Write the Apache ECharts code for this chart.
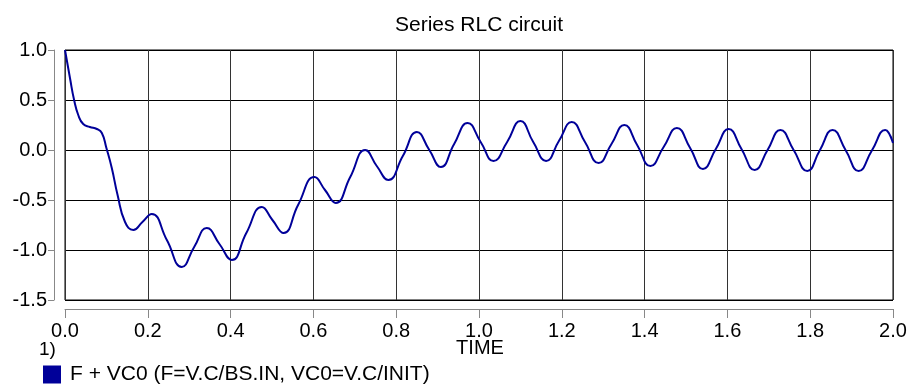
<!DOCTYPE html>
<html>
<head>
<meta charset="utf-8">
<script src="https://cdn.jsdelivr.net/npm/echarts@6/dist/echarts.min.js"></script>
<style>html,body{margin:0;padding:0;background:#fff}#c{width:910px;height:386px}</style>
</head>
<body>
<div id="c"></div>
<script>
var titleText = 'Series RLC circuit';
var xName = 'TIME';
var plotIndexLabel = '1)';
var seriesName = 'F + VC0 (F=V.C/BS.IN, VC0=V.C/INIT)';
var xTicks = [0.0, 0.2, 0.4, 0.6, 0.8, 1.0, 1.2, 1.4, 1.6, 1.8, 2.0];
var yTicks = [-1.5, -1.0, -0.5, 0.0, 0.5, 1.0];
var time = [0, 0.012, 0.022, 0.032, 0.044, 0.060, 0.077, 0.089, 0.100, 0.113, 0.127, 0.145, 0.165, 0.187, 0.2095, 0.246, 0.282, 0.312, 0.3425, 0.373, 0.403, 0.438, 0.4754, 0.501, 0.528, 0.563, 0.6026, 0.628, 0.654, 0.689, 0.725, 0.753, 0.781, 0.816, 0.850, 0.880, 0.908, 0.940, 0.9725, 1.004, 1.035, 1.068, 1.100, 1.131, 1.162, 1.193, 1.224, 1.256, 1.289, 1.320, 1.351, 1.382, 1.414, 1.446, 1.478, 1.510, 1.541, 1.572, 1.603, 1.634, 1.666, 1.697, 1.728, 1.760, 1.793, 1.823, 1.854, 1.886, 1.917, 1.949, 1.981, 2.000];
var value = [1.0, 0.72, 0.50, 0.35, 0.26, 0.23, 0.21, 0.17, 0.02, -0.18, -0.45, -0.72, -0.80, -0.72, -0.64, -0.90, -1.17, -0.97, -0.78, -0.94, -1.10, -0.83, -0.57, -0.70, -0.83, -0.55, -0.27, -0.40, -0.53, -0.27, 0.00, -0.16, -0.30, -0.06, 0.18, 0.00, -0.17, 0.06, 0.27, 0.08, -0.11, 0.08, 0.29, 0.08, -0.11, 0.09, 0.28, 0.08, -0.13, 0.06, 0.25, 0.05, -0.16, 0.03, 0.22, 0.02, -0.19, 0.01, 0.21, 0.01, -0.20, 0.00, 0.20, 0.00, -0.21, -0.005, 0.20, -0.005, -0.21, -0.005, 0.20, 0.07];

var pts = time.map(function (t, i) { return [t, value[i]]; });
var FONT = '"Liberation Sans", Arial, sans-serif';
var chart = echarts.init(document.getElementById('c'), null, {renderer: 'canvas'});
chart.setOption({
  animation: false,
  backgroundColor: '#fff',
  grid: {left: 65, right: 17, top: 50, bottom: 86, show: true, borderColor: '#000', borderWidth: 1, backgroundColor: 'transparent'},
  legend: {
    left: 43, top: 364, padding: 0, icon: 'rect', itemWidth: 18, itemHeight: 18,
    data: [seriesName],
    textStyle: {fontFamily: FONT, fontSize: 21, color: '#000', padding: [0, 0, 0, 4]}
  },
  xAxis: {
    type: 'value', min: xTicks[0], max: xTicks[xTicks.length - 1], interval: 0.2,
    offset: 9,
    axisLine: {show: true, onZero: false, lineStyle: {color: '#888', width: 1}},
    axisTick: {show: true, length: 9, lineStyle: {color: '#888'}},
    axisLabel: {margin: 12, fontFamily: FONT, fontSize: 20, color: '#000', formatter: function (v) { return v.toFixed(1); }},
    splitLine: {show: true, lineStyle: {color: '#333', width: 1}}
  },
  yAxis: {
    type: 'value', min: yTicks[0], max: yTicks[yTicks.length - 1], interval: 0.5,
    offset: 11,
    axisLine: {show: true, onZero: false, lineStyle: {color: '#888', width: 1}},
    axisTick: {show: true, length: 6, lineStyle: {color: '#888'}},
    axisLabel: {margin: 7, fontFamily: FONT, fontSize: 20, color: '#000', formatter: function (v) { return v.toFixed(1); }},
    splitLine: {show: true, lineStyle: {color: '#000', width: 1}}
  },
  graphic: [
    {type: 'text', style: {x: 479, y: 25, text: titleText, font: '21px ' + FONT, fill: '#000', textAlign: 'center', textVerticalAlign: 'middle'}},
    {type: 'text', style: {x: 480, y: 348, text: xName, font: '20px ' + FONT, fill: '#000', textAlign: 'center', textVerticalAlign: 'middle'}},
    {type: 'text', style: {x: 39, y: 350, text: plotIndexLabel, font: '19px ' + FONT, fill: '#000', textAlign: 'left', textVerticalAlign: 'middle'}}
  ],
  series: [{
    name: seriesName, type: 'line', data: pts, smooth: 0.5, showSymbol: false,
    color: '#000099',
    lineStyle: {color: '#000099', width: 2}
  }]
});
</script>
</body>
</html>
